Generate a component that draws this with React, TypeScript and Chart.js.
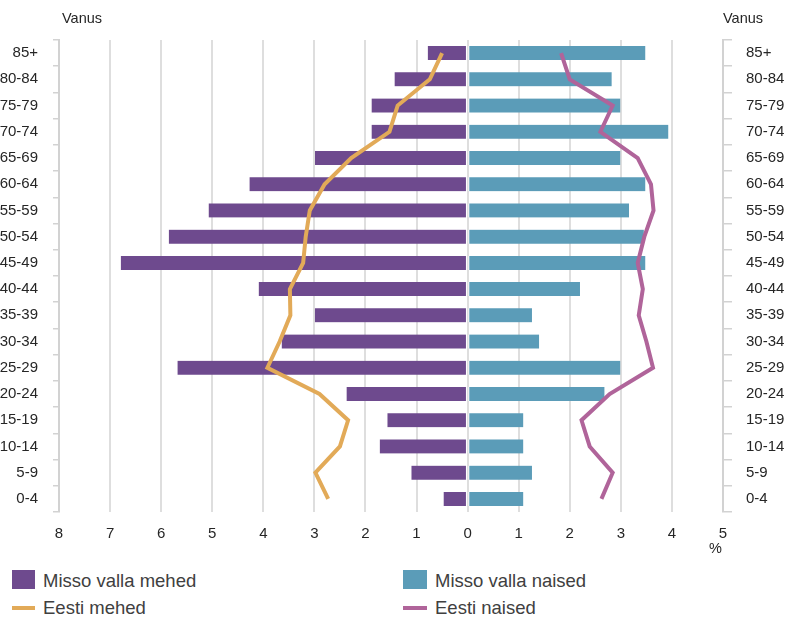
import React, { useEffect, useRef } from "react";
import { Chart, registerables } from "chart.js";

Chart.register(...registerables);

const ageGroups = [
  "85+", "80-84", "75-79", "70-74", "65-69", "60-64", "55-59", "50-54", "45-49",
  "40-44", "35-39", "30-34", "25-29", "20-24", "15-19", "10-14", "5-9", "0-4",
];

// shares in % (men shown to the left as negative values)
const missoMen = [0.78, 1.43, 1.88, 1.88, 2.99, 4.27, 5.07, 5.85, 6.79, 4.09, 2.99, 3.64, 5.68, 2.37, 1.57, 1.72, 1.1, 0.47];
const missoWomen = [3.48, 2.82, 2.99, 3.93, 2.99, 3.48, 3.16, 3.45, 3.48, 2.2, 1.26, 1.4, 2.99, 2.68, 1.09, 1.09, 1.26, 1.09];
const eestiMen = [0.5, 0.74, 1.37, 1.53, 2.28, 2.8, 3.09, 3.17, 3.22, 3.48, 3.47, 3.68, 3.92, 2.9, 2.34, 2.5, 2.98, 2.73];
const eestiWomen = [1.83, 2.0, 2.84, 2.6, 3.33, 3.59, 3.64, 3.46, 3.33, 3.43, 3.35, 3.5, 3.63, 2.78, 2.23, 2.39, 2.84, 2.62];

const xMin = -8;
const xMax = 5;

const PURPLE = "#6E4A8E";
const TEAL = "#5B9CB8";
const ORANGE = "#E2AA58";
const PINK = "#B0649A";
const FONT = "'Liberation Sans', Arial, sans-serif";
const TEXT = "#262626";

export default function App() {
  const ref = useRef<HTMLCanvasElement | null>(null);

  useEffect(() => {
    if (!ref.current) return;
    const chart = new Chart(ref.current, {
      type: "bar",
      data: {
        labels: ageGroups,
        datasets: [
          {
            type: "line",
            label: "Eesti mehed",
            data: eestiMen.map((v) => -v),
            borderColor: ORANGE,
            backgroundColor: ORANGE,
            borderWidth: 4,
            pointRadius: 0,
            tension: 0,
            fill: false,
            indexAxis: "y",
            xAxisID: "x",
            yAxisID: "y",
            order: 0,
          } as any,
          {
            type: "line",
            label: "Eesti naised",
            data: eestiWomen,
            borderColor: PINK,
            backgroundColor: PINK,
            borderWidth: 4,
            pointRadius: 0,
            tension: 0,
            fill: false,
            indexAxis: "y",
            xAxisID: "x",
            yAxisID: "y",
            order: 0,
          } as any,
          {
            type: "bar",
            label: "Misso valla mehed",
            data: missoMen.map((v) => -v),
            backgroundColor: PURPLE,
            borderColor: "#ffffff",
            borderWidth: { right: 1, left: 0, top: 0, bottom: 0 },
            borderSkipped: false,
            barThickness: 14,
            grouped: false,
            xAxisID: "x",
            yAxisID: "y",
            order: 1,
          } as any,
          {
            type: "bar",
            label: "Misso valla naised",
            data: missoWomen,
            backgroundColor: TEAL,
            borderColor: "#ffffff",
            borderWidth: { left: 1, right: 0, top: 0, bottom: 0 },
            borderSkipped: false,
            barThickness: 14,
            grouped: false,
            xAxisID: "x",
            yAxisID: "y",
            order: 1,
          } as any,
        ],
      },
      options: {
        indexAxis: "y",
        responsive: false,
        animation: false,
        maintainAspectRatio: false,
        layout: { padding: { top: 40, left: 0, right: 0, bottom: 0 } },
        plugins: {
          legend: { display: false },
          tooltip: { enabled: false },
        },
        scales: {
          x: {
            type: "linear",
            min: xMin,
            max: xMax,
            position: "bottom",
            ticks: {
              stepSize: 1,
              padding: 13,
              color: TEXT,
              font: { family: FONT, size: 15 },
              callback: (v: any) => String(Math.abs(Number(v))),
            },
            grid: { color: "#dedede", lineWidth: 2, drawTicks: false },
            border: { display: false },
            afterFit: (s: any) => {
              s.height = 48;
            },
          },
          y: {
            type: "category",
            position: "left",
            offset: true,
            ticks: {
              padding: 15,
              color: TEXT,
              font: { family: FONT, size: 15 },
            },
            grid: {
              display: true,
              drawOnChartArea: false,
              offset: true,
              tickLength: 6,
              color: "#d2d2d2",
              lineWidth: 1.5,
            },
            border: { display: true, color: "#d2d2d2", width: 2 },
            afterFit: (s: any) => {
              s.width = 59;
            },
          },
          y2: {
            type: "category",
            position: "right",
            offset: true,
            labels: ageGroups,
            ticks: {
              padding: 14,
              color: TEXT,
              font: { family: FONT, size: 15 },
            },
            grid: {
              display: true,
              drawOnChartArea: false,
              offset: true,
              tickLength: 9,
              color: "#d2d2d2",
              lineWidth: 1.5,
            },
            border: { display: true, color: "#d2d2d2", width: 2 },
            afterFit: (s: any) => {
              s.width = 66;
            },
          },
        },
      } as any,
    });
    return () => chart.destroy();
  }, []);

  const txt: React.CSSProperties = {
    position: "absolute",
    fontFamily: FONT,
    color: TEXT,
    whiteSpace: "nowrap",
    lineHeight: "1",
  };
  const legendText: React.CSSProperties = {
    ...txt,
    fontSize: 18.5,
    color: "#404040",
  };

  return (
    <div
      style={{
        position: "fixed",
        left: 0,
        top: 0,
        width: 789,
        height: 619,
        background: "#ffffff",
        overflow: "hidden",
      }}
    >
      <canvas ref={ref} width={789} height={560} style={{ position: "absolute", left: 0, top: 0 }} />
      <div style={{ ...txt, fontSize: 14.5, left: 62, top: 11 }}>Vanus</div>
      <div style={{ ...txt, fontSize: 14.5, left: 723, top: 11 }}>Vanus</div>
      <div style={{ ...txt, fontSize: 14.5, left: 709, top: 541 }}>%</div>

      <div style={{ position: "absolute", left: 12, top: 570, width: 23, height: 19, background: PURPLE }} />
      <div style={{ ...legendText, left: 43, top: 572 }}>Misso valla mehed</div>
      <div style={{ position: "absolute", left: 403, top: 570, width: 24, height: 19, background: TEAL }} />
      <div style={{ ...legendText, left: 435, top: 572 }}>Misso valla naised</div>

      <div style={{ position: "absolute", left: 12, top: 606, width: 23, height: 4, background: ORANGE }} />
      <div style={{ ...legendText, left: 43, top: 599 }}>Eesti mehed</div>
      <div style={{ position: "absolute", left: 403, top: 606, width: 24, height: 4, background: PINK }} />
      <div style={{ ...legendText, left: 435, top: 599 }}>Eesti naised</div>
    </div>
  );
}
